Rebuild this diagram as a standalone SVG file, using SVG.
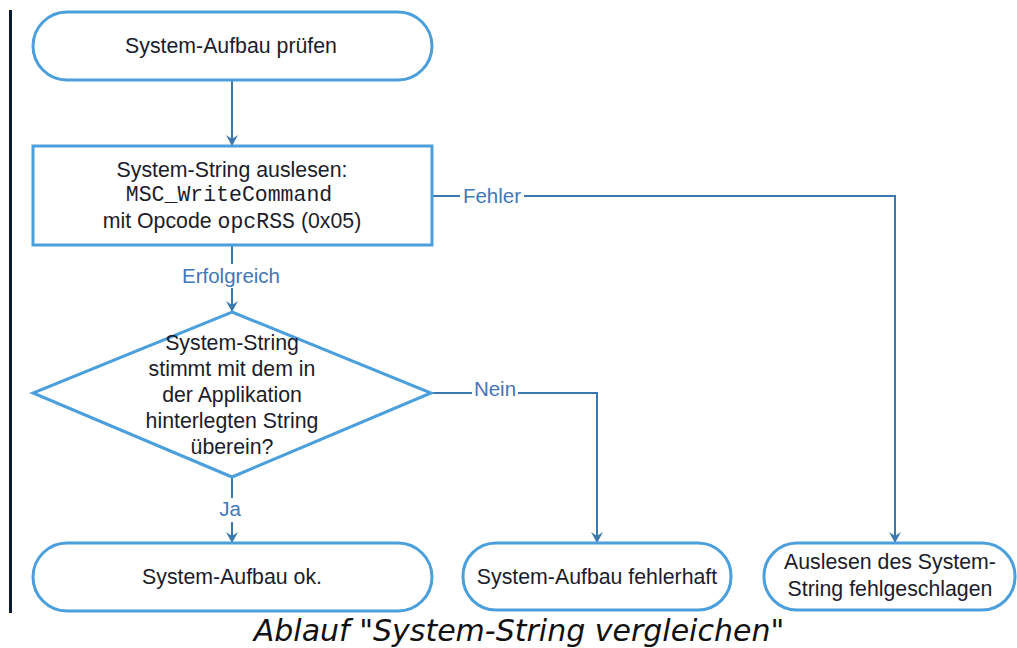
<svg xmlns="http://www.w3.org/2000/svg" width="1017" height="648" viewBox="0 0 1017 648">
<style>
.shape{fill:#fff;stroke:#4a9fdc;stroke-width:3}
.t{font-family:"Liberation Sans",Arial,sans-serif;font-size:21.3px;fill:#1c1c2a;text-anchor:middle}
.m{font-family:"Liberation Mono","Courier New",monospace;font-size:21.5px}
.c{fill:none;stroke:#3b78b0;stroke-width:2}
.lbl{font-family:"Liberation Sans",Arial,sans-serif;font-size:20.5px;fill:#4277b8;text-anchor:middle}
.bg{fill:#fff}
</style>
<defs>
<marker id="ah" markerWidth="12" markerHeight="12" refX="10" refY="6" orient="auto" markerUnits="userSpaceOnUse">
<path d="M0,0 L11,6 L0,12 L4,6 Z" fill="#3b78b0"/>
</marker>
</defs>
<rect x="9" y="10" width="3" height="603" fill="#0c1a30"/>
<g id="connectors">
<path class="c" d="M232,80 V145" marker-end="url(#ah)"/>
<path class="c" d="M232,245 V311" marker-end="url(#ah)"/>
<path class="c" d="M432,196 H895 V542" marker-end="url(#ah)"/>
<path class="c" d="M430,393 H597 V542" marker-end="url(#ah)"/>
<path class="c" d="M232,477 V542" marker-end="url(#ah)"/>
<rect class="bg" x="180" y="264" width="102" height="24"/>
<text class="lbl" x="231" y="283">Erfolgreich</text>
<rect class="bg" x="460" y="185" width="64" height="24"/>
<text class="lbl" x="492" y="203">Fehler</text>
<rect class="bg" x="472" y="378" width="46" height="24"/>
<text class="lbl" x="495" y="396">Nein</text>
<rect class="bg" x="216" y="498" width="30" height="24"/>
<text class="lbl" x="230" y="516">Ja</text>
</g>
<g id="start">
<rect class="shape" x="33" y="12" width="399" height="68" rx="34"/>
<text class="t" x="231" y="53">System-Aufbau prüfen</text>
</g>
<g id="read">
<rect class="shape" x="33" y="146" width="399" height="99"/>
<text class="t" x="232" y="177">System-String auslesen:</text>
<text class="t m" x="229" y="201">MSC_WriteCommand</text>
<text class="t" x="232" y="228">mit Opcode <tspan class="m">opcRSS</tspan> (0x05)</text>
</g>
<g id="decision">
<polygon class="shape" points="232,312 431,393 232,477 33,393"/>
<text class="t" x="232" y="350">System-String</text>
<text class="t" x="232" y="376">stimmt mit dem in</text>
<text class="t" x="232" y="402">der Applikation</text>
<text class="t" x="232" y="428">hinterlegten String</text>
<text class="t" x="232" y="454">überein?</text>
</g>
<g id="ok">
<rect class="shape" x="33" y="543" width="399" height="68" rx="34"/>
<text class="t" x="232" y="584">System-Aufbau ok.</text>
</g>
<g id="fail">
<rect class="shape" x="463" y="543" width="268" height="67" rx="33"/>
<text class="t" x="597" y="584">System-Aufbau fehlerhaft</text>
</g>
<g id="readfail">
<rect class="shape" x="764" y="543" width="251" height="67" rx="33"/>
<text class="t" x="890" y="569">Auslesen des System-</text>
<text class="t" x="890" y="596">String fehlgeschlagen</text>
</g>
<text x="519" y="641" font-family="'DejaVu Sans',Verdana,sans-serif" font-style="italic" font-size="30" fill="#111" text-anchor="middle">Ablauf "System-String vergleichen"</text>
</svg>
